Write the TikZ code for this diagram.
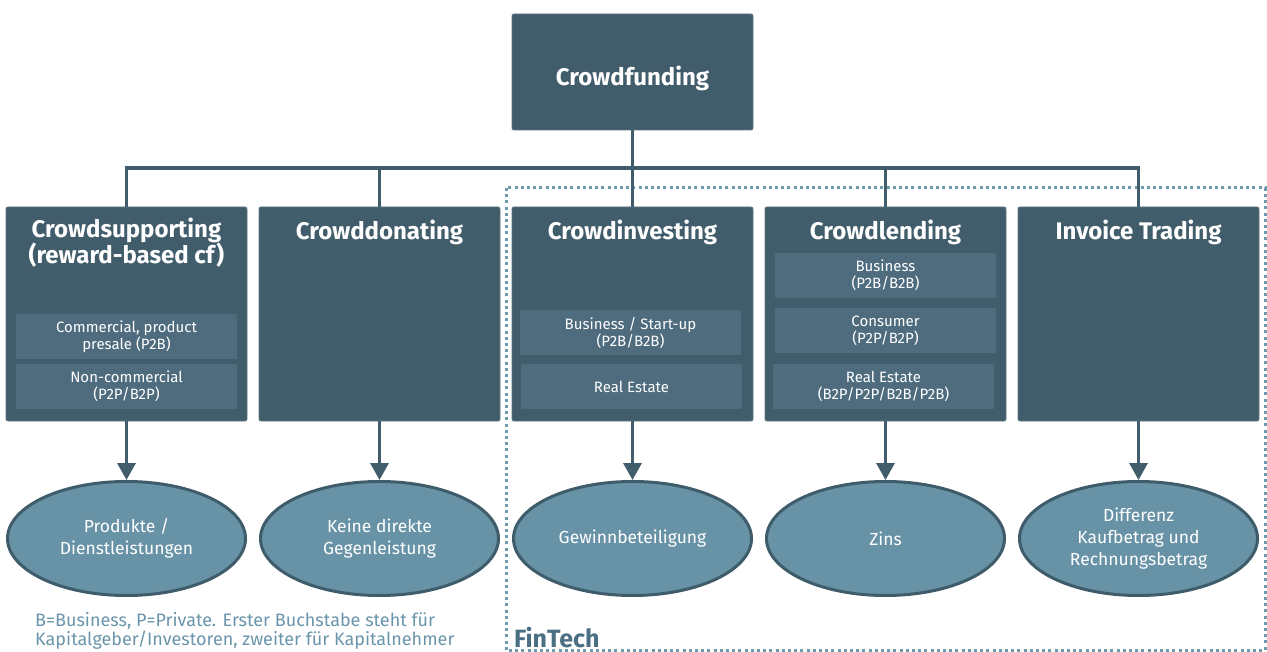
\documentclass[tikz,border=0pt]{standalone}
\usepackage{fontspec}
\setmainfont{Fira Sans}
\usetikzlibrary{arrows.meta,shapes.geometric}
\definecolor{boxc}{HTML}{415D6B}
\definecolor{subc}{HTML}{4E6C7E}
\definecolor{ellc}{HTML}{6893A7}
\definecolor{elld}{HTML}{3F5C6A}
\definecolor{dotc}{HTML}{6E9AAE}
\definecolor{notec}{HTML}{6A95AB}
\definecolor{fintc}{HTML}{4A6F82}
\tikzset{
  mainbox/.style={draw=boxc!85!white, line width=0.8pt, fill=boxc, rounded corners=2pt, minimum width=241pt, minimum height=214pt, inner sep=0pt},
  rootbox/.style={draw=boxc!85!white, line width=0.8pt, fill=boxc, rounded corners=2pt, minimum width=241pt, minimum height=116pt, inner sep=0pt},
  subbox/.style={fill=subc, minimum width=221pt, minimum height=45pt, inner sep=0pt, text=white, align=center, font=\fontsize{15}{17}\selectfont},
  ttl/.style={text=white, align=center, font=\fontsize{24}{26}\selectfont\bfseries},
  res/.style={ellipse, draw=elld, line width=3pt, fill=ellc, minimum width=238pt, minimum height=114pt, inner sep=0pt, text=white, align=center, font=\fontsize{17.5}{22}\selectfont},
  link/.style={draw=boxc, line width=3.5pt},
  arr/.style={draw=boxc, line width=3.5pt, -{Triangle[width=18pt,length=17pt]}},
}
\begin{document}
\begin{tikzpicture}[x=1pt,y=-1pt]
\useasboundingbox (0,0) rectangle (1267,652);
% FinTech frame
\draw[dotc, line width=3pt, dash pattern=on 3pt off 3.2pt] (506,188) rectangle (1265,650);
\node[anchor=base west, text=fintc, font=\fontsize{25}{27}\selectfont\bfseries, inner sep=0pt] (fin) at (514,647) {FinTech};
% root
\node[rootbox] (root) at (632.5,72) {};
\node[ttl] (roott) at (632.5,78) {Crowdfunding};
% main boxes
\node[mainbox] (b1) at (126.5,314) {};
\node[mainbox] (b2) at (379.5,314) {};
\node[mainbox] (b3) at (632.5,314) {};
\node[mainbox] (b4) at (885.5,314) {};
\node[mainbox] (b5) at (1138.5,314) {};
% connectors
\coordinate (bus) at (632.5,168);
\draw[link] (root.south) -- (bus);
\draw[link] (b1.north) -- (b1.north |- bus) -- (b5.north |- bus) -- (b5.north);
\draw[link] (b2.north) -- (b2.north |- bus);
\draw[link] (b3.north) -- (b3.north |- bus);
\draw[link] (b4.north) -- (b4.north |- bus);
% titles
\node[ttl] (t1) at (126.5,243) {Crowdsupporting\\(reward-based cf)};
\node[ttl] (t2) at (379.5,232) {Crowddonating};
\node[ttl] (t3) at (632.5,232) {Crowdinvesting};
\node[ttl] (t4) at (885.5,232) {Crowdlending};
\node[ttl] (t5) at (1138.5,232) {Invoice Trading};
% sub boxes
\node[subbox] (s11) at (126.5,336.5) {Commercial, product\\presale (P2B)};
\node[subbox] (s12) at (126.5,386.5) {Non-commercial\\(P2P/B2P)};
\node[subbox] (s31) at (630.5,333) {Business / Start-up\\(P2B/B2B)};
\node[subbox] (s32) at (631.5,386.5) {Real Estate};
\node[subbox] (s41) at (885.5,275.5) {Business\\(P2B/B2B)};
\node[subbox] (s42) at (885.5,330.5) {Consumer\\(P2P/B2P)};
\node[subbox] (s43) at (883.5,386.5) {Real Estate\\(B2P/P2P/B2B/P2B)};
% results
\node[res] (e1) at (126.5,538.5) {Produkte /\\Dienstleistungen};
\node[res] (e2) at (379.5,538.5) {Keine direkte\\Gegenleistung};
\node[res] (e3) at (632.5,538.5) {Gewinnbeteiligung};
\node[res] (e4) at (885.5,538.5) {Zins};
\node[res] (e5) at (1138.5,538.5) {Differenz\\Kaufbetrag und\\Rechnungsbetrag};
\draw[arr] (b1.south) -- (e1.north);
\draw[arr] (b2.south) -- (e2.north);
\draw[arr] (b3.south) -- (e3.north);
\draw[arr] (b4.south) -- (e4.north);
\draw[arr] (b5.south) -- (e5.north);
% footnote
\node[anchor=north west, text=notec, align=left, inner sep=0pt, font=\fontsize{18}{19.5}\selectfont] (note) at (35,612) {B=Business, P=Private. Erster Buchstabe steht für\\Kapitalgeber/Investoren, zweiter für Kapitalnehmer};
\end{tikzpicture}
\end{document}
